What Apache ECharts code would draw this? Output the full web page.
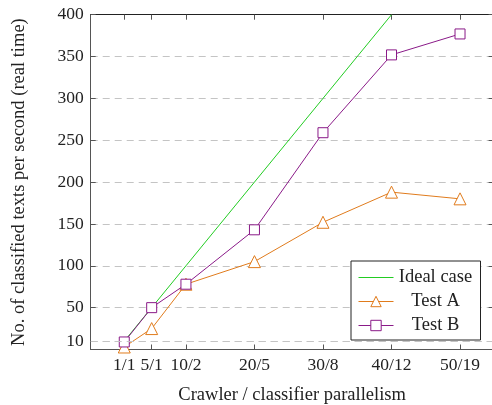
<!DOCTYPE html>
<html><head><meta charset="utf-8">
<script src="https://cdn.jsdelivr.net/npm/echarts@6/dist/echarts.min.js"></script>
<style>html,body{margin:0;padding:0;background:#fff}#c{width:492px;height:405px}</style>
</head><body><div id="c"></div>
<script>
const xValues = [1, 5, 10, 20, 30, 40, 50];
const xLabels = ['1/1', '5/1', '10/2', '20/5', '30/8', '40/12', '50/19'];
const yTicks = [10, 50, 100, 150, 200, 250, 300, 350, 400];
const idealX = [1, 5, 10, 20, 30, 40];
const idealY = [10, 50, 100, 200, 300, 400];
const testA = [3, 25, 78, 105, 152, 188, 180];
const testB = [9, 50, 78, 143, 259, 352, 377];

const FONT = 'Liberation Serif';
const pairs = (xs, ys) => xs.map((x, i) => [x, ys[i]]);
const labelMap = {}; xValues.forEach((v, i) => labelMap[v] = xLabels[i]);

const orange = '#e07b1c', purple = '#8a1a88', green = '#22cc22';
const axisCol = '#555';
const gridCol = '#c4c4c4';
const gridDash = [7, 5];

const chart = echarts.init(document.getElementById('c'), null, {renderer: 'canvas'});
const xBase = {
  type: 'value', min: -3.9, max: 54.9,
  axisLine: {show: true, onZero: false, lineStyle: {color: axisCol, width: 1}},
  splitLine: {show: false},
};
const yBase = {
  type: 'value', min: 0, max: 400,
  axisLine: {show: true, onZero: false, lineStyle: {color: axisCol, width: 1}},
};
chart.setOption({
  animation: false,
  grid: {left: 90.7, right: -1.6, top: 14.7, bottom: 55.5, containLabel: false, outerBoundsMode: 'none'},
  xAxis: [
    Object.assign({}, xBase, {
      position: 'bottom',
      name: 'Crawler / classifier parallelism', nameLocation: 'middle', nameGap: 36,
      nameTextStyle: {fontFamily: FONT, fontSize: 18.5, color: '#222'},
      axisTick: {show: true, inside: true, length: 5, customValues: xValues, lineStyle: {color: axisCol}},
      axisLabel: {show: true, customValues: xValues, margin: 7, fontFamily: FONT, fontSize: 17.5, color: '#222',
        formatter: v => labelMap[v] || ''}
    }),
    Object.assign({}, xBase, {
      position: 'top',
      axisLine: {show: true, onZero: false, lineStyle: {color: '#222', width: 1}},
      axisTick: {show: true, inside: true, length: 5, customValues: xValues, lineStyle: {color: axisCol}},
      axisLabel: {show: false}
    })
  ],
  yAxis: [
    Object.assign({}, yBase, {
      position: 'left',
      name: 'No. of classified texts per second (real time)', nameLocation: 'middle', nameGap: 62,
      nameTextStyle: {fontFamily: FONT, fontSize: 18.5, color: '#222'},
      axisTick: {show: true, inside: true, length: 5, customValues: yTicks, lineStyle: {color: axisCol}},
      axisLabel: {show: true, customValues: yTicks, margin: 7, fontFamily: FONT, fontSize: 17.5, color: '#222'},
      splitLine: {show: true, lineStyle: {color: gridCol, width: 1, type: gridDash}}
    }),
    Object.assign({}, yBase, {
      position: 'right',
      axisTick: {show: true, inside: true, length: 5, customValues: yTicks, lineStyle: {color: axisCol}},
      axisLabel: {show: false},
      splitLine: {show: false}
    })
  ],
  legend: {
    orient: 'vertical', left: 351, top: 261,
    padding: [7, 8, 5, 7],
    backgroundColor: '#fff', borderColor: '#222', borderWidth: 1, borderRadius: 0,
    itemWidth: 35, itemHeight: 13, itemGap: 5,
    itemStyle: {borderWidth: 1},
    lineStyle: {width: 1},
    formatter: n => '{a|' + n + '}',
    textStyle: {fontFamily: FONT, fontSize: 18.5, color: '#222',
      rich: {a: {fontFamily: FONT, fontSize: 18.5, color: '#222', width: 74, align: 'center', lineHeight: 18}}},
    data: [{name: 'Ideal case', itemStyle: {opacity: 0}}, 'Test A', 'Test B']
  },
  series: [
    {name: 'Ideal case', type: 'line', data: pairs(idealX, idealY), symbol: 'none',
      lineStyle: {color: green, width: 1}, itemStyle: {color: green}, clip: false, z: 2,
      markLine: {silent: true, symbol: 'none', label: {show: false}, animation: false,
        lineStyle: {color: gridCol, width: 1, type: gridDash}, data: [{yAxis: yTicks[0]}]}},
    {name: 'Test A', type: 'line', data: pairs(xValues, testA), symbol: 'triangle', symbolSize: 12,
      lineStyle: {color: orange, width: 1}, itemStyle: {color: '#fff', borderColor: orange, borderWidth: 1}, clip: false, z: 3},
    {name: 'Test B', type: 'line', data: pairs(xValues, testB), symbol: 'rect', symbolSize: 10,
      lineStyle: {color: purple, width: 1}, itemStyle: {color: '#fff', borderColor: purple, borderWidth: 1}, clip: false, z: 4}
  ]
});
</script></body></html>
